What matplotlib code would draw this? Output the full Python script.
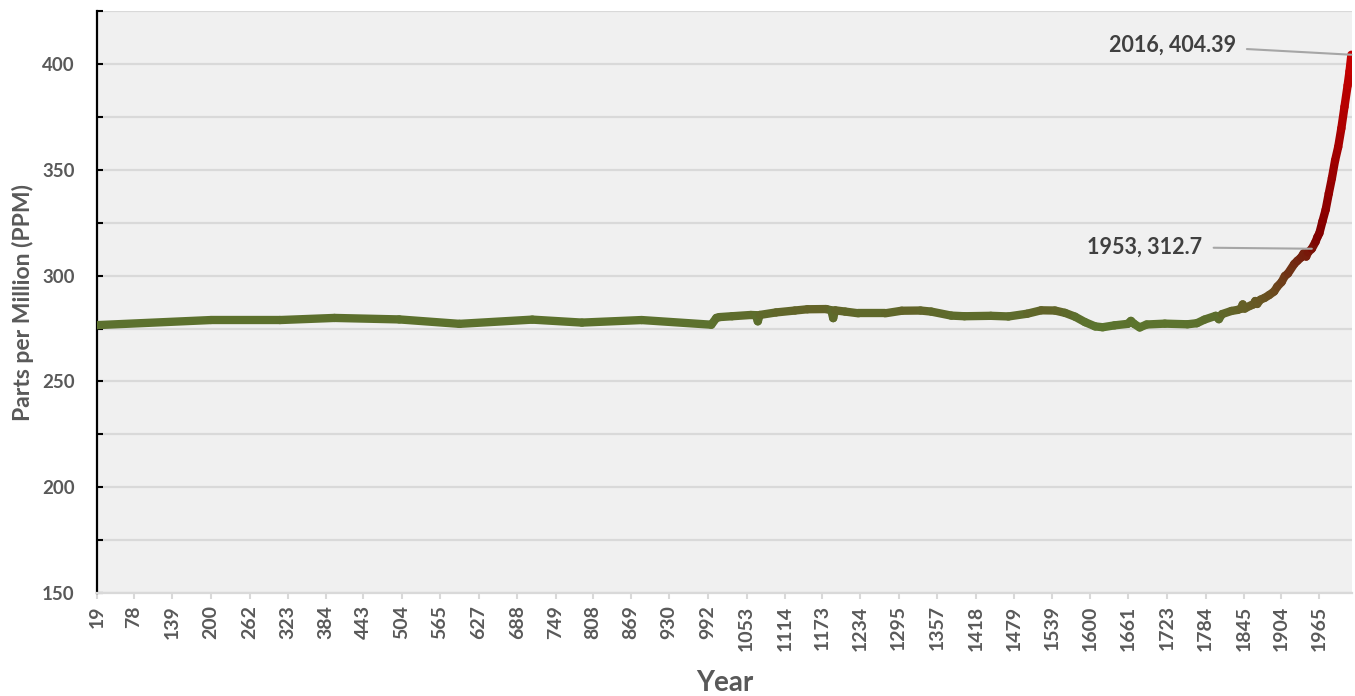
import numpy as np
import matplotlib
matplotlib.use("Agg")
import matplotlib.pyplot as plt
from matplotlib.collections import LineCollection
from matplotlib.colors import LinearSegmentedColormap, Normalize

# Atmospheric CO2 (ppm) by year: ice-core record joined to instrumental record
years = [19, 200, 310, 397, 500, 596, 712, 791, 886, 997,
         1005, 1010, 1030, 1060, 1068, 1071, 1074, 1100, 1130, 1150,
         1180, 1188, 1191, 1194, 1210, 1231, 1274, 1300, 1330, 1347,
         1379, 1400, 1442, 1470, 1500, 1522, 1544, 1560, 1576, 1592,
         1608, 1620, 1639, 1660, 1665, 1670, 1679, 1690, 1719, 1755,
         1770, 1782, 1800, 1805, 1810, 1825, 1835, 1840, 1843, 1846,
         1855, 1860, 1863, 1866, 1871, 1878, 1885, 1893, 1898, 1905,
         1910, 1915, 1925, 1930, 1936, 1940, 1944, 1947, 1953, 1959,
         1962, 1965, 1970, 1975, 1980, 1985, 1990, 1995, 2000, 2005,
         2010, 2013, 2016]
ppm = [276.6, 279.0, 279.0, 280.0, 279.3, 277.2, 279.2, 277.8, 279.0, 276.8,
       280.0, 280.4, 280.8, 281.4, 281.3, 278.4, 281.4, 282.6, 283.5, 284.1,
       284.2, 283.6, 279.9, 283.6, 283.0, 282.2, 282.2, 283.4, 283.5, 283.0,
       281.1, 280.8, 281.0, 280.7, 282.0, 283.6, 283.5, 282.4, 280.6, 278.0,
       276.0, 275.6, 276.5, 277.2, 278.6, 277.2, 275.5, 276.9, 277.3, 277.0,
       277.5, 279.2, 281.0, 279.4, 281.8, 283.3, 283.8, 284.3, 286.4, 284.4,
       285.8, 286.4, 288.0, 286.6, 288.6, 289.5, 290.8, 292.5, 294.8, 297.0,
       299.8, 301.0, 305.5, 307.0, 308.6, 310.5, 309.0, 311.0, 312.7, 316.0,
       318.3, 320.0, 325.7, 331.1, 338.8, 346.1, 354.4, 360.8, 369.6, 379.8,
       389.9, 396.5, 404.39]

xtick_years = [19, 78, 139, 200, 262, 323, 384, 443, 504, 565, 627, 688, 749,
               808, 869, 930, 992, 1053, 1114, 1173, 1234, 1295, 1357, 1418,
               1479, 1539, 1600, 1661, 1723, 1784, 1845, 1904, 1965]
ytick_values = [150, 175, 200, 225, 250, 275, 300, 325, 350, 375, 400, 425]

callouts = [(1953, 312.7, 1779, 313.5), (2016, 404.39, 1832, 409.0)]

FONT = ["Lato", "DejaVu Sans"]
plt.rcParams["font.family"] = FONT

fig = plt.figure(figsize=(13.55, 6.96), dpi=100)
fig.patch.set_facecolor("white")
ax = fig.add_axes([0.0716, 0.148, 0.9262, 0.836])
ax.set_facecolor("#f0f0f0")

x = np.asarray(years, dtype=float)
y = np.asarray(ppm, dtype=float)
pts = np.column_stack([x, y]).reshape(-1, 1, 2)
segs = np.concatenate([pts[:-1], pts[1:]], axis=1)
mid = (y[:-1] + y[1:]) / 2.0

cmap = LinearSegmentedColormap.from_list(
    "co2",
    [(0.00, "#5b7a2f"), (0.06, "#5c6e2d"), (0.10, "#655f27"),
     (0.16, "#6b4a1e"), (0.26, "#722a12"), (0.35, "#800000"),
     (0.55, "#960000"), (1.00, "#c80000")])
norm = Normalize(vmin=272, vmax=405)
lc = LineCollection(segs, colors=cmap(norm(mid)), linewidths=6.0,
                    capstyle="round", joinstyle="round", zorder=3)
ax.add_collection(lc)

ax.set_xlim(19, 2017)
ax.set_ylim(150, 425)

ax.set_yticks(ytick_values)
ax.set_yticklabels([str(v) if v % 50 == 0 and v <= 400 else "" for v in ytick_values])
ax.set_xticks(xtick_years)
ax.set_xticklabels([str(v) for v in xtick_years], rotation=90)

ax.grid(axis="y", color="#d9d9d9", linewidth=1.6, zorder=0)
ax.set_axisbelow(True)

for side in ("top", "right"):
    ax.spines[side].set_visible(False)
ax.spines["left"].set_color("black")
ax.spines["left"].set_linewidth(1.6)
ax.spines["bottom"].set_color("#d9d9d9")
ax.spines["bottom"].set_linewidth(1.6)

ax.tick_params(axis="y", direction="in", length=4, width=1.5, color="black",
               pad=16, labelsize=13.5, labelcolor="#595959")
ax.tick_params(axis="x", direction="out", length=4, width=1.5, color="#d9d9d9",
               pad=5, labelsize=14, labelcolor="#595959")
for lab in ax.get_xticklabels() + ax.get_yticklabels():
    lab.set_fontweight("bold")

ax.set_xlabel("Year", fontsize=20, fontweight="bold", color="#595959", labelpad=14)
ax.set_ylabel("Parts per Million (PPM)", fontsize=16.5, fontweight="bold",
              color="#595959", labelpad=6)

for yr, val, tx, ty in callouts:
    ax.annotate(f"{yr}, {val:g}", xy=(yr, val), xytext=(tx, ty),
                ha="right", va="center", fontsize=15.5, fontweight="bold",
                color="#404040", zorder=5,
                arrowprops=dict(arrowstyle="-", color="#a6a6a6", lw=1.5,
                                shrinkA=6, shrinkB=0))

fig.savefig("out.png", dpi=100, facecolor="white")
